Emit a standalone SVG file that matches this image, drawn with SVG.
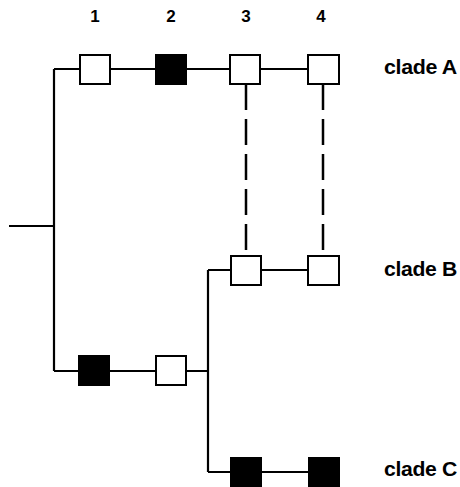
<svg xmlns="http://www.w3.org/2000/svg" width="460" height="487" viewBox="0 0 460 487">
<style>
.ln{stroke:#000;stroke-width:2.2;fill:none}
.dash{stroke:#000;stroke-width:2.5;fill:none;stroke-dasharray:26 9}
.w{fill:#fff;stroke:#000;stroke-width:2}
.b{fill:#000;stroke:#000;stroke-width:2}
text{font-family:"Liberation Sans",Arial,sans-serif;font-weight:bold;fill:#000}
.lab{text-anchor:middle;font-size:17px}
.cl{font-size:19.5px;letter-spacing:-0.3px}
</style>
<rect width="460" height="487" fill="#fff"/>
<g id="connectors">
<path class="ln" d="M9 226H54M54 69V371M54 69H80M110 69H156M186 69H229M260 69H308"/>
<path class="ln" d="M54 371H79M109 371H156M186 371H208M208 270V472M208 270H230M261 270H308M208 472H231M261 472H308"/>
<path class="dash" d="M246 84V256M323 84V256"/>
</g>
<g id="n1"><rect class="w" x="80" y="55" width="30" height="29"/></g>
<g id="n2"><rect class="b" x="156" y="55" width="30" height="29"/></g>
<g id="n3"><rect class="w" x="230" y="55" width="30" height="29"/></g>
<g id="n4"><rect class="w" x="308" y="55" width="31" height="29"/></g>
<g id="n5"><rect class="w" x="231" y="256" width="30" height="29"/></g>
<g id="n6"><rect class="w" x="308" y="256" width="31" height="29"/></g>
<g id="n7"><rect class="b" x="79" y="356" width="30" height="29"/></g>
<g id="n8"><rect class="w" x="156" y="356" width="30" height="29"/></g>
<g id="n9"><rect class="b" x="231" y="458" width="30" height="30"/></g>
<g id="n10"><rect class="b" x="309" y="458" width="30" height="30"/></g>
<g id="labels">
<text class="lab" x="95" y="22">1</text>
<text class="lab" x="171" y="22">2</text>
<text class="lab" x="246" y="22">3</text>
<text class="lab" x="321" y="22">4</text>
<text class="cl" x="384" y="74" textLength="73" lengthAdjust="spacingAndGlyphs">clade A</text>
<text class="cl" x="384" y="276" textLength="73" lengthAdjust="spacingAndGlyphs">clade B</text>
<text class="cl" x="384" y="476" textLength="73" lengthAdjust="spacingAndGlyphs">clade C</text>
</g>
</svg>
